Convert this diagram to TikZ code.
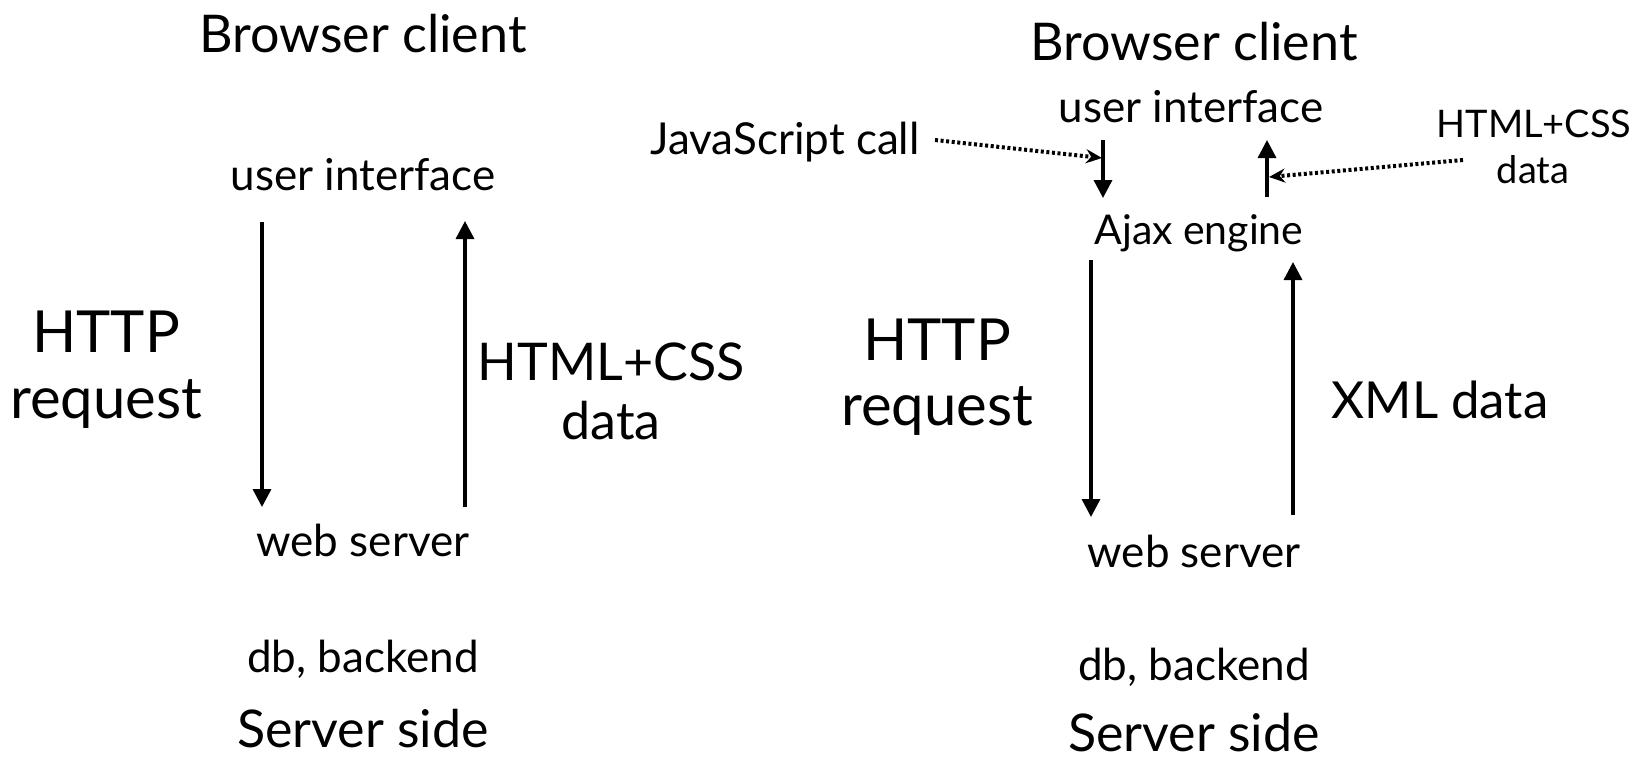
\documentclass[tikz,border=0pt]{standalone}
\usepackage{fontspec}
\setmainfont{Lato}
\usetikzlibrary{arrows.meta}
\tikzset{
 bigtext/.style={font=\fontsize{26}{30}\selectfont, anchor=base, inner sep=0pt},
 httptext/.style={font=\fontsize{29}{33}\selectfont, anchor=base, inner sep=0pt},
 midtext/.style={font=\fontsize{22}{26}\selectfont, anchor=base, inner sep=0pt},
 smalltext/.style={font=\fontsize{19}{22}\selectfont, anchor=base, inner sep=0pt},
 flow/.style={line width=1.7pt, -{Triangle[width=9pt,length=9pt]}},
 hint/.style={line width=2pt, dash pattern=on 1.5pt off 1.3pt,
   -{Stealth[length=8pt,width=7pt]}},
 }

\begin{document}
\begin{tikzpicture}[x=0.5pt, y=-0.5pt]
        \useasboundingbox (0, 0) rectangle (1646, 762);
        % classic model
        \node [bigtext] (bc1) at (363, 52) {Browser client};
        \node [midtext] (ui1) at (363, 190) {user interface};
        \node [httptext] (http1) at (106, 352) {HTTP};
        \node [httptext] (req1) at (106, 418) {request};
        \node [bigtext] (html1) at (611, 380) {HTML+CSS};
        \node [bigtext] (data1) at (611, 439) {data};
        \node [midtext] (ws1) at (363, 556) {web server};
        \node [midtext] (db1) at (363, 672) {db, backend};
        \node [bigtext] (ss1) at (363, 747) {Server side};
        \coordinate (req1top) at (262, 222);
        \coordinate (req1end) at (262, 507);
        \coordinate (rep1top) at (465, 221);
        \coordinate (rep1end) at (465, 507);
        \draw [flow] (req1top) -- (req1end);
        \draw [flow] (rep1end) -- (rep1top);
        % ajax model
        \node [bigtext] (bc2) at (1194, 60) {Browser client};
        \node [midtext] (ui2) at (1191, 122) {user interface};
        \node [midtext] (js) at (785, 154) {JavaScript call};
        \node [smalltext] (htmlS) at (1534, 137) {HTML+CSS};
        \node [smalltext] (dataS) at (1533, 183) {data};
        \node [midtext, font=\fontsize{20.5}{24}\selectfont] (ajax) at (1199, 244) {Ajax engine};
        \node [httptext] (http2) at (937, 360) {HTTP};
        \node [httptext] (req2) at (937, 425) {request};
        \node [bigtext, font=\fontsize{25.5}{30}\selectfont] (xml) at (1440, 418) {XML data};
        \node [midtext] (ws2) at (1194, 567) {web server};
        \node [midtext] (db2) at (1194, 680) {db, backend};
        \node [bigtext] (ss2) at (1194, 751) {Server side};
        \coordinate (calltop) at (1103, 140);
        \coordinate (callend) at (1103, 198);
        \coordinate (showtop) at (1267, 140);
        \coordinate (showend) at (1267, 197);
        \coordinate (req2top) at (1091, 260);
        \coordinate (req2end) at (1091, 517);
        \coordinate (rep2top) at (1293, 262);
        \coordinate (rep2end) at (1293, 515);
        \coordinate (jsfrom) at (935, 140);
        \coordinate (jsto) at (1102, 158);
        \coordinate (htmlfrom) at (1463, 160);
        \coordinate (htmlto) at (1269, 177);
        \draw [flow] (calltop) -- (callend);
        \draw [flow] (showend) -- (showtop);
        \draw [flow] (req2top) -- (req2end);
        \draw [flow] (rep2end) -- (rep2top);
        \draw [hint] (jsfrom) -- (jsto);
        \draw [hint] (htmlfrom) -- (htmlto);
    \end{tikzpicture}
\end{document}
